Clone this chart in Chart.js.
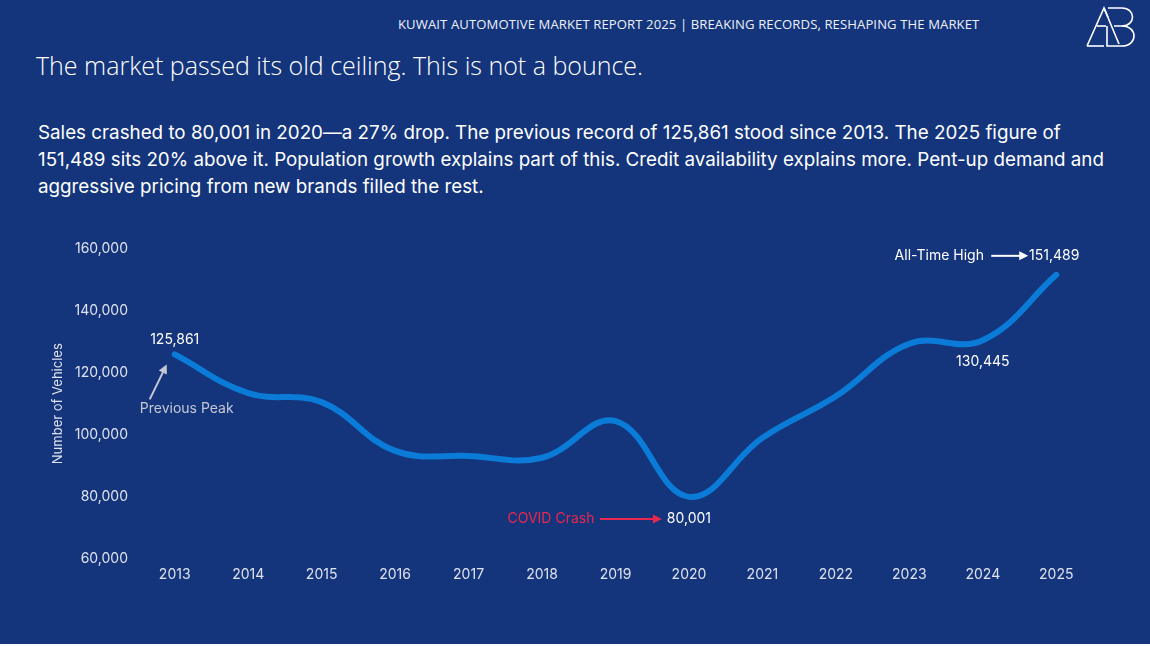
<!DOCTYPE html>
<html>
<head>
<meta charset="utf-8">
<script src="https://cdn.jsdelivr.net/npm/chart.js@4.4.1/dist/chart.umd.min.js"></script>
<style>
  html, body { margin: 0; padding: 0; background: #ffffff; }
  #page {
    position: relative; width: 1150px; height: 644px; background: #14357c;
    overflow: hidden; font-family: 'Inter', sans-serif; color: #ffffff;
  }
  #header {
    position: absolute; top: 15px; left: 398px; font-family: 'Open Sans', sans-serif;
    font-size: 13.1px; letter-spacing: 0.1px; color: #eef1f8;
  }
  #title {
    position: absolute; top: 48px; left: 36px; font-family: 'Open Sans', sans-serif;
    font-weight: 300; font-size: 25px; color: #ffffff;
  }
  #body {
    position: absolute; top: 119px; left: 38px; width: 1075px;
    font-size: 18.8px; line-height: 27px; color: #ffffff;
  }
  #logo { position: absolute; left: 1084px; top: 4px; }
  #chartBox { position: absolute; left: 0; top: 230px; width: 1150px; height: 400px; }
</style>
</head>
<body>
<div id="page">
  <div id="header">KUWAIT AUTOMOTIVE MARKET REPORT 2025 | BREAKING RECORDS, RESHAPING THE MARKET</div>
  <svg id="logo" width="56" height="46" viewBox="0 0 56 46" fill="none" stroke="#ffffff" stroke-width="1.6" stroke-linejoin="miter">
    <!-- A -->
    <polyline points="3,42 20,4 24,13" />
    <polyline points="3,42 20,42" />
    <polyline points="13,22 22,22" />
    <polyline points="20,4 35,40" />
    <!-- B -->
    <polyline points="23,22 23,42 38,42" />
    <path d="M24,4 L38,4 C52,4 52,22 38,22 L30,22" />
    <path d="M38,22 C54,22 54,42 38,42" />
  </svg>
  <div id="title">The market passed its old ceiling. This is not a bounce.</div>
  <div id="body">Sales crashed to 80,001 in 2020—a 27% drop. The previous record of 125,861 stood since 2013. The 2025 figure of 151,489 sits 20% above it. Population growth explains part of this. Credit availability explains more. Pent-up demand and aggressive pricing from new brands filled the rest.</div>
  <div id="chartBox"><canvas id="myChart" width="1150" height="400"></canvas></div>
</div>
<script>
// ** Data
const years = ['2013', '2014', '2015', '2016', '2017', '2018', '2019', '2020', '2021', '2022', '2023', '2024', '2025']
const sales = [125861, 113400, 110500, 94800, 93200, 92600, 104400, 80001, 99000, 112400, 129300, 130445, 151489]
const yTicks = [60000, 80000, 100000, 120000, 140000, 160000]

// notes: [year, text, where]
const valueNotes = [
  ['2013', '125,861', 'above'],
  ['2024', '130,445', 'below']
]

const fmt = v => v.toLocaleString('en-US')

// ** Annotation plugin (positions from the scales)
const notesPlugin = {
  id: 'notes',
  afterDatasetsDraw(chart) {
    const { ctx, scales: { x, y } } = chart
    ctx.save()
    ctx.font = '14px Inter'
    ctx.textAlign = 'center'
    ctx.textBaseline = 'middle'

    const px = yr => x.getPixelForValue(years.indexOf(yr))
    const py = yr => y.getPixelForValue(sales[years.indexOf(yr)])

    const arrow = (x1, y1, x2, y2, color) => {
      const a = Math.atan2(y2 - y1, x2 - x1)
      ctx.strokeStyle = color
      ctx.fillStyle = color
      ctx.lineWidth = 2
      ctx.beginPath()
      ctx.moveTo(x1, y1)
      ctx.lineTo(x2 - 6 * Math.cos(a), y2 - 6 * Math.sin(a))
      ctx.stroke()
      ctx.beginPath()
      ctx.moveTo(x2, y2)
      ctx.lineTo(x2 - 9 * Math.cos(a) + 4.5 * Math.sin(a), y2 - 9 * Math.sin(a) - 4.5 * Math.cos(a))
      ctx.lineTo(x2 - 9 * Math.cos(a) - 4.5 * Math.sin(a), y2 - 9 * Math.sin(a) + 4.5 * Math.cos(a))
      ctx.closePath()
      ctx.fill()
    }

    valueNotes.forEach(([yr, txt, where]) => {
      ctx.fillStyle = '#ffffff'
      ctx.fillText(txt, px(yr), py(yr) + (where === 'above' ? -15 : 22))
    })

    // previous peak
    const x13 = px('2013'), y13 = py('2013')
    arrow(x13 - 25, y13 + 45, x13 - 8, y13 + 10, '#c4c8d4')
    ctx.fillStyle = '#c4c8d4'
    ctx.fillText('Previous Peak', x13 + 12, y13 + 54)

    // covid crash
    const x20 = px('2020'), y20 = py('2020')
    ctx.fillStyle = '#ffffff'
    ctx.fillText('80,001', x20, y20 + 22)
    arrow(x20 - 89, y20 + 22, x20 - 27, y20 + 22, '#e8284e')
    ctx.fillStyle = '#e8284e'
    ctx.fillText('COVID Crash', x20 - 138, y20 + 22)

    // all-time high
    const x25 = px('2025'), y25 = py('2025')
    ctx.fillStyle = '#ffffff'
    ctx.fillText('151,489', x25 - 2, y25 - 19)
    arrow(x25 - 65, y25 - 19, x25 - 28, y25 - 19, '#ffffff')
    ctx.fillText('All-Time High', x25 - 117, y25 - 19)
    ctx.restore()
  }
}

const ctx = document.getElementById('myChart').getContext('2d')
const myChart = new Chart(ctx, {
  type: 'line',
  data: {
    labels: years,
    datasets: [
      {
        data: sales,
        borderColor: '#0b7bd8',
        borderWidth: 6,
        borderCapStyle: 'round',
        tension: 0.4,
        pointRadius: 0,
        fill: false
      }
    ]
  },
  options: {
    responsive: false,
    animation: false,
    layout: { padding: { left: 45, right: 57, top: 16, bottom: 41 } },
    plugins: { legend: { display: false }, tooltip: { enabled: false } },
    scales: {
      x: {
        offset: true,
        grid: { display: false, drawTicks: false },
        border: { display: false },
        ticks: { color: '#dfe3ee', font: { family: 'Inter', size: 14 }, padding: 7, maxRotation: 0 },
        afterFit: s => { s.height = 30 }
      },
      y: {
        min: 60000,
        max: 160000,
        afterBuildTicks: s => { s.ticks = yTicks.map(v => ({ value: v })) },
        grid: { display: false, drawTicks: false },
        border: { display: false },
        ticks: { color: '#dfe3ee', font: { family: 'Inter', size: 14 }, padding: 10, callback: v => fmt(v) },
        title: { display: true, text: 'Number of Vehicles', color: '#dfe3ee', font: { family: 'Inter', size: 13 }, padding: 5 },
        afterFit: s => { s.width = 93 }
      }
    }
  },
  plugins: [notesPlugin]
})
</script>
</body>
</html>
